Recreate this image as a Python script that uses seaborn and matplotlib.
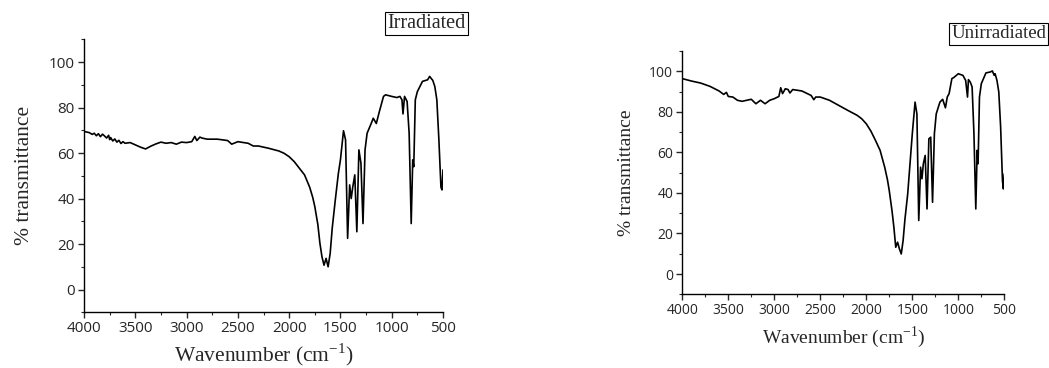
import matplotlib
matplotlib.use("Agg")
import matplotlib.pyplot as plt
import seaborn as sns
import pandas as pd
from matplotlib.ticker import MultipleLocator

# ---- data ----
irr_wn = [4000, 3950, 3920, 3900, 3880, 3860, 3840, 3820, 3800, 3780, 3760, 3750, 3740, 3720,
          3700, 3680, 3660, 3640, 3620, 3600, 3550, 3500, 3450, 3400, 3350, 3300, 3250, 3200,
          3150, 3100, 3050, 3000, 2950, 2920, 2900, 2870, 2850, 2800, 2700, 2600, 2560, 2500,
          2400, 2350, 2300, 2200, 2100, 2050, 2000, 1950, 1900, 1850, 1800, 1770, 1750, 1720,
          1700, 1680, 1660, 1640, 1620, 1600, 1580, 1550, 1520, 1500, 1470, 1450, 1430, 1410,
          1395, 1380, 1360, 1340, 1320, 1300, 1280, 1260, 1240, 1200, 1180, 1150, 1120, 1080,
          1060, 1000, 950, 920, 900, 890, 875, 850, 830, 810, 795, 785, 770, 750, 700, 650,
          630, 610, 600, 580, 560, 540, 520, 510, 500]
irr_t = [69.5, 69.0, 68.2, 68.7, 67.6, 68.5, 67.2, 68.3, 67.5, 66.6, 67.8, 65.9, 66.8, 65.3,
         66.2, 64.8, 65.6, 64.2, 65.0, 64.3, 64.6, 63.6, 62.6, 61.8, 63.0, 64.0, 64.8, 64.3,
         64.6, 63.9, 64.8, 64.6, 65.0, 67.3, 65.5, 67.0, 66.6, 66.1, 66.1, 65.5, 63.9, 65.0,
         64.3, 63.1, 63.1, 62.1, 60.9, 59.9, 58.4, 56.2, 53.3, 50.4, 45.0, 40.5, 36.5, 28.5,
         20.3, 14.4, 10.7, 13.7, 10.0, 15.9, 27.0, 39.4, 51.1, 57.0, 69.8, 65.8, 22.5, 46.0,
         40.0, 45.0, 50.4, 25.4, 61.4, 55.5, 29.0, 61.4, 68.7, 73.0, 75.3, 73.0, 78.3, 84.9,
         85.6, 84.9, 84.4, 84.9, 83.4, 77.2, 84.9, 82.7, 68.7, 29.0, 57.0, 54.0, 83.4, 87.0,
         91.5, 92.2, 93.7, 92.5, 92.0, 89.3, 83.4, 65.8, 45.0, 43.8, 52.6]

unirr_wn = [4000, 3900, 3800, 3700, 3600, 3550, 3520, 3500, 3450, 3400, 3350, 3300, 3250, 3200,
            3150, 3100, 3050, 3000, 2950, 2930, 2910, 2880, 2850, 2830, 2800, 2700, 2600, 2570,
            2550, 2500, 2400, 2300, 2200, 2100, 2050, 2000, 1950, 1900, 1850, 1800, 1770, 1750,
            1720, 1700, 1680, 1660, 1640, 1620, 1600, 1580, 1550, 1500, 1470, 1450, 1430, 1410,
            1395, 1380, 1360, 1340, 1320, 1300, 1280, 1260, 1240, 1200, 1170, 1140, 1120, 1100,
            1070, 1050, 1000, 950, 920, 900, 890, 870, 850, 830, 810, 795, 785, 770, 750, 700,
            650, 630, 610, 600, 580, 560, 540, 520, 510, 500]
unirr_t = [96.4, 95.2, 94.2, 92.6, 90.3, 88.6, 89.6, 87.6, 87.3, 85.7, 85.2, 85.7, 86.2, 84.0,
           85.7, 84.0, 85.7, 86.5, 87.6, 91.9, 89.0, 91.4, 91.0, 89.3, 91.0, 90.3, 88.1, 86.0,
           87.3, 87.3, 85.7, 83.2, 80.7, 78.3, 76.6, 74.1, 70.5, 65.9, 61.0, 52.7, 46.5, 41.0,
           31.0, 23.0, 13.2, 15.7, 12.4, 9.9, 16.5, 27.0, 39.5, 69.2, 84.8, 79.0, 26.4, 52.7,
           47.0, 54.4, 58.5, 32.1, 66.7, 67.5, 35.4, 69.2, 79.0, 84.8, 86.2, 82.0, 87.3, 89.0,
           96.4, 96.9, 98.8, 98.0, 95.5, 87.3, 95.9, 94.7, 92.3, 69.2, 32.1, 61.0, 54.4, 87.3,
           93.9, 99.2, 99.7, 100.2, 98.0, 98.8, 95.5, 89.8, 72.5, 46.0, 42.0, 49.4]

panel_titles = ["Irradiated", "Unirradiated"]
x_ticks = [4000, 3500, 3000, 2500, 2000, 1500, 1000, 500]
y_ticks = [0, 20, 40, 60, 80, 100]
x_label = "Wavenumber (cm$^{\\mathregular{-1}}$)"
y_label = "% transmittance"

sns.set_style("ticks")
plt.rcParams["font.family"] = ["Open Sans", "DejaVu Sans"]

fig = plt.figure(figsize=(10.49, 3.68), dpi=100)
ax1 = fig.add_axes([0.0801, 0.1514, 0.3422, 0.7418])
ax2 = fig.add_axes([0.6504, 0.2003, 0.3070, 0.6610])

serif = ["Liberation Serif", "DejaVu Serif"]

specs = [
    (ax1, irr_wn, irr_t, 11, 15.5, 4, 11),
    (ax2, unirr_wn, unirr_t, 10, 14, 4, 10),
]
for ax, wn, t, tfs, lfs, xpad, ypad in specs:
    df = pd.DataFrame({"wn": wn, "t": t})
    sns.lineplot(data=df, x="wn", y="t", ax=ax, color="black", linewidth=1.2,
                 estimator=None, sort=False)
    ax.set_xlim(4000, 500)
    ax.set_ylim(-10, 110)
    ax.set_xticks(x_ticks)
    ax.set_yticks(y_ticks)
    ax.xaxis.set_minor_locator(MultipleLocator(250))
    ax.yaxis.set_minor_locator(MultipleLocator(10))
    ax.tick_params(which="major", direction="out", length=4.5, width=1, labelsize=tfs, pad=2)
    ax.tick_params(which="minor", direction="out", length=2.5, width=0.8)
    for s in ["top", "right"]:
        ax.spines[s].set_visible(False)
    for s in ["left", "bottom"]:
        ax.spines[s].set_linewidth(1.0)
        ax.spines[s].set_color("black")
    ax.set_xlabel(x_label, family=serif, fontsize=lfs, labelpad=xpad)
    ax.set_ylabel(y_label, family=serif, fontsize=lfs, labelpad=ypad)

box = dict(boxstyle="square,pad=0.12", facecolor="white", edgecolor="black", linewidth=0.8)
fig.text(466 / 1049, 1 - 23.5 / 368, panel_titles[0], ha="right", va="center",
         family=serif, fontsize=14.5, bbox=box)
fig.text(1046 / 1049, 1 - 34 / 368, panel_titles[1], ha="right", va="center",
         family=serif, fontsize=13.5, bbox=box)

fig.savefig("out.png", dpi=100)
